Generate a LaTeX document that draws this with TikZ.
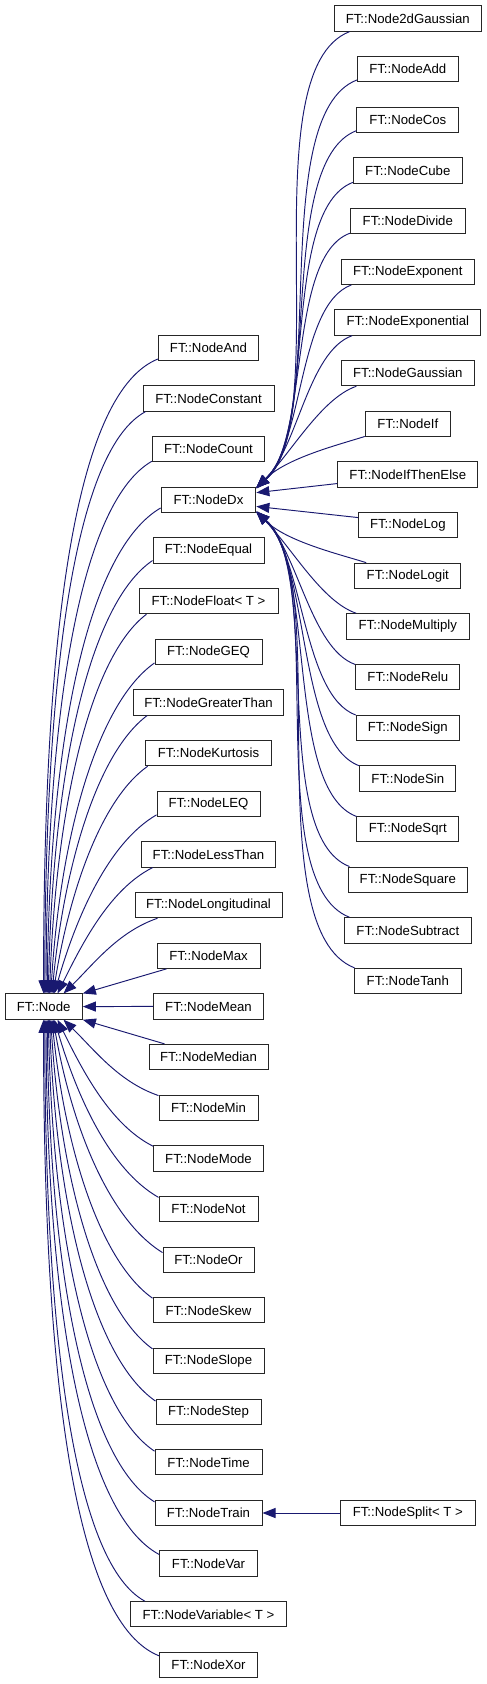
\documentclass[tikz,border=0pt]{standalone}
\usepackage{fontspec}
\setmainfont{Liberation Sans}
\usetikzlibrary{arrows.meta,calc}
\definecolor{edgeblue}{HTML}{191970}
\tikzset{
  cls/.style={draw=black!85, line width=1pt, fill=white, minimum height=25.3pt,
    inner sep=0pt, font=\fontsize{13.2}{15}\selectfont},
  edge/.style={draw=edgeblue, line width=0.95pt, -{Triangle[length=13pt,width=10pt]}}
}
% fan into FT::Node (left)
\newcommand\fanL[2]{%
\draw[edge] let \p1=(#1), \p2=(#2), \n1={\x1-\x2}, \n2={\y1-\y2},
  \n3={min(1,max(0,(abs(\n2)-77)/560))} in
  (\p1) .. controls +({-(0.42+0.28*\n3)*\n1}, {-(0.18-0.13*\n3)*\n2})
  and +({0.32*\n1*(1-\n3)*(1-\n3)}, {(0.39+0.21*\n3)*\n2}) .. (\p2);}
% fan into FT::NodeDx (right)
\newcommand\fanR[2]{%
\draw[edge] let \p1=(#1), \p2=(#2), \n2={\y1-\y2},
  \n4={(abs(\n2)-102)/355}, \n5={\n2/abs(\n2)} in
  (\p1) .. controls +({-(35+65*\n4)}, {-(12+27*\n4)*\n5})
  and +({35+44*\n4}, {(35+33*\n4)*\n5}) .. (\p2);}
\begin{document}
\begin{tikzpicture}[x=1pt,y=1pt]
\useasboundingbox (0,0) rectangle (487,-1684);
% root
\node[cls, minimum width=77.3pt] (root) at (43.7,-1006.6) {FT::Node};
% left column
\node[cls, minimum width=100pt]   (nand)      at (208.5,-347.8)  {FT::NodeAnd};
\node[cls, minimum width=131pt]   (nconst)    at (208.5,-398.5)  {FT::NodeConstant};
\node[cls, minimum width=112.3pt] (ncount)    at (208.5,-449.1)  {FT::NodeCount};
\node[cls, minimum width=94.7pt]  (ndx)       at (208.5,-499.8)  {FT::NodeDx};
\node[cls, minimum width=111pt]   (nequal)    at (208.5,-550.4)  {FT::NodeEqual};
\node[cls, minimum width=139pt]   (nfloat)    at (208.5,-601.1)  {FT::NodeFloat< T >};
\node[cls, minimum width=107pt]   (ngeq)      at (208.5,-651.8)  {FT::NodeGEQ};
\node[cls, minimum width=149.7pt] (ngt)       at (208.5,-702.4)  {FT::NodeGreaterThan};
\node[cls, minimum width=125.7pt] (nkurt)     at (208.5,-753.1)  {FT::NodeKurtosis};
\node[cls, minimum width=103pt]   (nleq)      at (208.5,-803.7)  {FT::NodeLEQ};
\node[cls, minimum width=134.7pt] (nlt)       at (208.5,-854.4)  {FT::NodeLessThan};
\node[cls, minimum width=147pt]   (nlong)     at (208.5,-905.1)  {FT::NodeLongitudinal};
\node[cls, minimum width=103pt]   (nmax)      at (208.5,-955.7)  {FT::NodeMax};
\node[cls, minimum width=110pt]   (nmean)     at (208.5,-1006.4) {FT::NodeMean};
\node[cls, minimum width=119pt]   (nmedian)   at (208.5,-1057.0) {FT::NodeMedian};
\node[cls, minimum width=99pt]    (nmin)      at (208.5,-1107.7) {FT::NodeMin};
\node[cls, minimum width=109.7pt] (nmode)     at (208.5,-1158.4) {FT::NodeMode};
\node[cls, minimum width=99pt]    (nnot)      at (208.5,-1209.0) {FT::NodeNot};
\node[cls, minimum width=91pt]    (nor)       at (208.5,-1259.7) {FT::NodeOr};
\node[cls, minimum width=111pt]   (nskew)     at (208.5,-1310.3) {FT::NodeSkew};
\node[cls, minimum width=111pt]   (nslope)    at (208.5,-1361.0) {FT::NodeSlope};
\node[cls, minimum width=105pt]   (nstep)     at (208.5,-1411.7) {FT::NodeStep};
\node[cls, minimum width=107pt]   (ntime)     at (208.5,-1462.3) {FT::NodeTime};
\node[cls, minimum width=107pt]   (ntrain)    at (208.5,-1513.0) {FT::NodeTrain};
\node[cls, minimum width=97.7pt]  (nvar)      at (208.5,-1563.6) {FT::NodeVar};
\node[cls, minimum width=156.3pt] (nvariable) at (208.5,-1614.3) {FT::NodeVariable< T >};
\node[cls, minimum width=97.7pt]  (nxor)      at (208.5,-1665.0) {FT::NodeXor};
% right column
\node[cls, minimum width=147pt]   (ng2d)    at (407.8,-18.5)  {FT::Node2dGaussian};
\node[cls, minimum width=100.7pt] (nadd)    at (407.8,-69.2)  {FT::NodeAdd};
\node[cls, minimum width=101.7pt] (ncos)    at (407.8,-119.8) {FT::NodeCos};
\node[cls, minimum width=108.7pt] (ncube)   at (407.8,-170.5) {FT::NodeCube};
\node[cls, minimum width=115pt]   (ndiv)    at (407.8,-221.1) {FT::NodeDivide};
\node[cls, minimum width=132.7pt] (nexpo)   at (407.8,-271.8) {FT::NodeExponent};
\node[cls, minimum width=145.7pt] (nexpl)   at (407.8,-322.5) {FT::NodeExponential};
\node[cls, minimum width=132.7pt] (ngauss)  at (407.8,-373.1) {FT::NodeGaussian};
\node[cls, minimum width=85pt]    (nif)     at (407.8,-423.8) {FT::NodeIf};
\node[cls, minimum width=140.3pt] (nite)    at (407.8,-474.4) {FT::NodeIfThenElse};
\node[cls, minimum width=98.7pt]  (nlog)    at (407.8,-525.1) {FT::NodeLog};
\node[cls, minimum width=105.7pt] (nlogit)  at (407.8,-575.8) {FT::NodeLogit};
\node[cls, minimum width=123pt]   (nmul)    at (407.8,-626.4) {FT::NodeMultiply};
\node[cls, minimum width=104.3pt] (nrelu)   at (407.8,-677.1) {FT::NodeRelu};
\node[cls, minimum width=103pt]   (nsign)   at (407.8,-727.7) {FT::NodeSign};
\node[cls, minimum width=96.3pt]  (nsin)    at (407.8,-778.4) {FT::NodeSin};
\node[cls, minimum width=101.7pt] (nsqrt)   at (407.8,-829.1) {FT::NodeSqrt};
\node[cls, minimum width=119pt]   (nsquare) at (407.8,-879.7) {FT::NodeSquare};
\node[cls, minimum width=127pt]   (nsub)    at (407.8,-930.4) {FT::NodeSubtract};
\node[cls, minimum width=107pt]   (ntanh)   at (407.8,-981.0) {FT::NodeTanh};
\node[cls, minimum width=135pt]   (nsplit)  at (407.8,-1513.0) {FT::NodeSplit< T >};
% edges into FT::Node, from above
\fanL{[yshift=2pt]nand.south west}{[xshift=39pt]root.north west}
\fanL{[xshift=3pt]nconst.south west}{[xshift=40.2pt]root.north west}
\fanL{[yshift=1pt]ncount.south west}{[xshift=41.4pt]root.north west}
\fanL{[yshift=5pt]ndx.south west}{[xshift=42.6pt]root.north west}
\fanL{[yshift=3pt]nequal.south west}{[xshift=43.8pt]root.north west}
\fanL{[xshift=8pt]nfloat.south west}{[xshift=45pt]root.north west}
\fanL{[yshift=2pt]ngeq.south west}{[xshift=46.2pt]root.north west}
\fanL{[xshift=14pt]ngt.south west}{[xshift=47.4pt]root.north west}
\fanL{[xshift=2.5pt]nkurt.south west}{[xshift=48.6pt]root.north west}
\fanL{[yshift=2pt]nleq.south west}{[xshift=49.8pt]root.north west}
\fanL{[xshift=12pt]nlt.south west}{[xshift=53pt]root.north west}
\fanL{[xshift=23pt]nlong.south west}{[xshift=59pt]root.north west}
\draw[edge] ([xshift=10pt]nmax.south west) -- (root.north east);
\draw[edge] (nmean.west) -- (root.east);
\draw[edge] ([xshift=16pt]nmedian.north west) -- (root.south east);
% edges into FT::Node, from below
\fanL{[yshift=-1pt]nmin.north west}{[xshift=59pt]root.south west}
\fanL{[yshift=-1pt]nmode.north west}{[xshift=53pt]root.south west}
\fanL{[yshift=-1.5pt]nnot.north west}{[xshift=49.8pt]root.south west}
\fanL{[yshift=-6pt]nor.north west}{[xshift=48.6pt]root.south west}
\fanL{[yshift=-1pt]nskew.north west}{[xshift=47.4pt]root.south west}
\fanL{[yshift=-1pt]nslope.north west}{[xshift=46.2pt]root.south west}
\fanL{[yshift=-2.5pt]nstep.north west}{[xshift=45pt]root.south west}
\fanL{[yshift=-2pt]ntime.north west}{[xshift=43.8pt]root.south west}
\fanL{[yshift=-2pt]ntrain.north west}{[xshift=42.6pt]root.south west}
\fanL{[yshift=-4pt]nvar.north west}{[xshift=41.4pt]root.south west}
\fanL{[xshift=15pt]nvariable.north west}{[xshift=40.2pt]root.south west}
\fanL{[yshift=-4pt]nxor.north west}{[xshift=39pt]root.south west}
% edges into FT::NodeDx
\fanR{[xshift=15.7pt]ng2d.south west}{[yshift=-1pt]ndx.north east}
\fanR{[yshift=2.4pt]nadd.south west}{[yshift=-1pt]ndx.north east}
\fanR{[yshift=2.3pt]ncos.south west}{[yshift=-1pt]ndx.north east}
\fanR{[yshift=1.3pt]ncube.south west}{[yshift=-1pt]ndx.north east}
\fanR{[yshift=1pt]ndiv.south west}{[yshift=-1pt]ndx.north east}
\fanR{[xshift=10.4pt]nexpo.south west}{[yshift=-1pt]ndx.north east}
\fanR{[xshift=17.7pt]nexpl.south west}{[yshift=-1pt]ndx.north east}
\fanR{[xshift=15.4pt]ngauss.south west}{[yshift=-1pt]ndx.north east}
\fanR{[yshift=0.5pt]nif.south west}{[yshift=-2pt]ndx.north east}
\draw[edge] ([yshift=4pt]nite.south west) -- ([yshift=-6pt]ndx.north east);
\draw[edge] ([yshift=-5.6pt]nlog.north west) -- ([yshift=6.5pt]ndx.south east);
\fanR{[xshift=11.7pt]nlogit.north west}{[yshift=2pt]ndx.south east}
\fanR{[xshift=10.4pt]nmul.north west}{[yshift=1pt]ndx.south east}
\fanR{[yshift=-0.5pt]nrelu.north west}{[yshift=1pt]ndx.south east}
\fanR{[yshift=-0.5pt]nsign.north west}{[yshift=1pt]ndx.south east}
\fanR{[yshift=-0.5pt]nsin.north west}{[yshift=1pt]ndx.south east}
\fanR{[yshift=-0.5pt]nsqrt.north west}{[yshift=1pt]ndx.south east}
\fanR{[xshift=1.7pt]nsquare.north west}{[yshift=1pt]ndx.south east}
\fanR{[xshift=5.7pt]nsub.north west}{[yshift=1pt]ndx.south east}
\fanR{[xshift=0.7pt]ntanh.north west}{[yshift=1pt]ndx.south east}
% NodeSplit -> NodeTrain
\draw[edge] (nsplit.west) -- (ntrain.east);
\end{tikzpicture}
\end{document}
